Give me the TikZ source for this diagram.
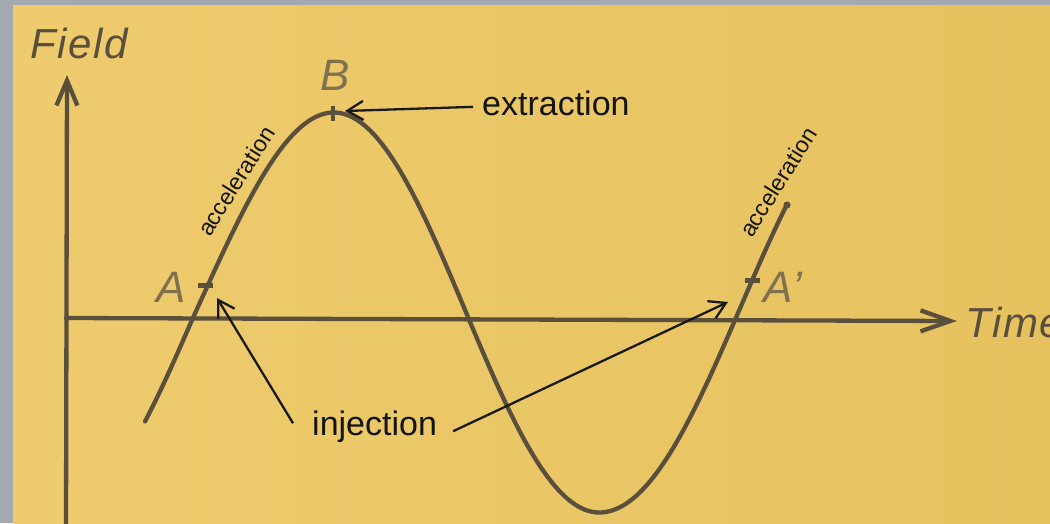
\documentclass[tikz,border=0pt]{standalone}
\usepackage{fontspec}
\setsansfont{Liberation Sans}
\newfontfamily\handfont[LetterSpace=4]{Liberation Sans}
\usetikzlibrary{arrows.meta,calc}
\definecolor{paperL}{HTML}{EECB6D}
\definecolor{paperD}{HTML}{E6C25F}
\definecolor{frame}{HTML}{A4A9B1}
\definecolor{ink}{HTML}{5A4F3C}
\definecolor{inkL}{HTML}{7F7150}
\begin{document}
\begin{tikzpicture}[x=1pt,y=-1pt,
  pen/.style={draw=ink,line width=4.3pt,line cap=round,line join=round},
  ptr/.style={draw=black!90,line width=2.3pt,-{Straight Barb[length=16pt,width=19pt]}},
  tickmark/.style={draw=ink,line width=4.5pt},
  lab/.style={inner sep=0pt,font=\fontsize{34}{40}\selectfont\sffamily,text=black!92},
  acc/.style={inner sep=0pt,font=\fontsize{23}{27}\selectfont\sffamily,rotate=58,text=black!92},
  hand/.style={inner sep=0pt,font=\fontsize{42}{48}\selectfont\handfont\itshape,text=ink},
  ptlab/.style={inner sep=0pt,font=\fontsize{44}{50}\selectfont\handfont\itshape,text=inkL}]
\useasboundingbox (0,0) rectangle (1050,523);
\clip (0,0) rectangle (1050,523);
% background
\fill[frame] (0,0) rectangle (1050,523);
\shade[left color=paperL,right color=paperD] (13,5) rectangle (1050,523);
% coordinates
\coordinate (yO) at (66,530);
\coordinate (yT) at (67,75);
\coordinate (xO) at (66,318);
\coordinate (xT) at (957,321);
\coordinate (A) at (207,285.5);
\coordinate (B) at (333,113);
\coordinate (Ap) at (752,280.5);
\coordinate (tipA) at (217,298);
\coordinate (tipAp) at (728,302);
\coordinate (tipB) at (345,111);
\coordinate (cEnd) at (787,205);
% axes
\draw[pen,-{Straight Barb[length=25pt,width=21pt]}] (yO) -- (yT);
\draw[pen,-{Straight Barb[length=30pt,width=21pt]}] (xO) -- (xT);
% curve
\draw[pen] plot[domain=145:787,samples=260,smooth,
    declare function={th(\t)=(\t-192)/543*360-4.5*sin(min(max(\t-192,0),408)/408*180);}]
  (\x,{320-(200+7.5*sin(th(\x)))*sin(th(\x))});
\fill[ink] (cEnd) circle (3.6pt);
% ticks
\draw[tickmark] ([xshift=-9pt]A) -- ([xshift=6pt]A);
\draw[tickmark] ([yshift=7pt]B) -- ([yshift=-8pt]B);
\draw[tickmark] ([xshift=-7pt]Ap) -- ([xshift=8pt]Ap);
% hand labels
\node[hand,anchor=base west] (field) at (30,58) {Field};
\node[hand,anchor=base west] (time) at (965,337) {Time};
\node[ptlab] (labB) at (335,75) {B};
\node[ptlab] (labA) at (171,287) {A};
\node[ptlab] (labAp) at (783,287) {A’};
% printed labels
\node[lab,anchor=base west] (ext) at (482,115) {extraction};
\node[lab,anchor=base west] (inj) at (312,435) {injection};
\node[acc] (acc1) at (236,181) {acceleration};
\node[acc] (acc2) at (778,182) {acceleration};
% pointers
\draw[ptr] ([xshift=-9pt,yshift=-4pt]ext.west) -- (tipB);
\draw[ptr] ([xshift=-19pt,yshift=3pt]inj.west) -- (tipA);
\draw[ptr] ([xshift=16pt,yshift=-5pt]inj.east) -- (tipAp);
\end{tikzpicture}
\end{document}
